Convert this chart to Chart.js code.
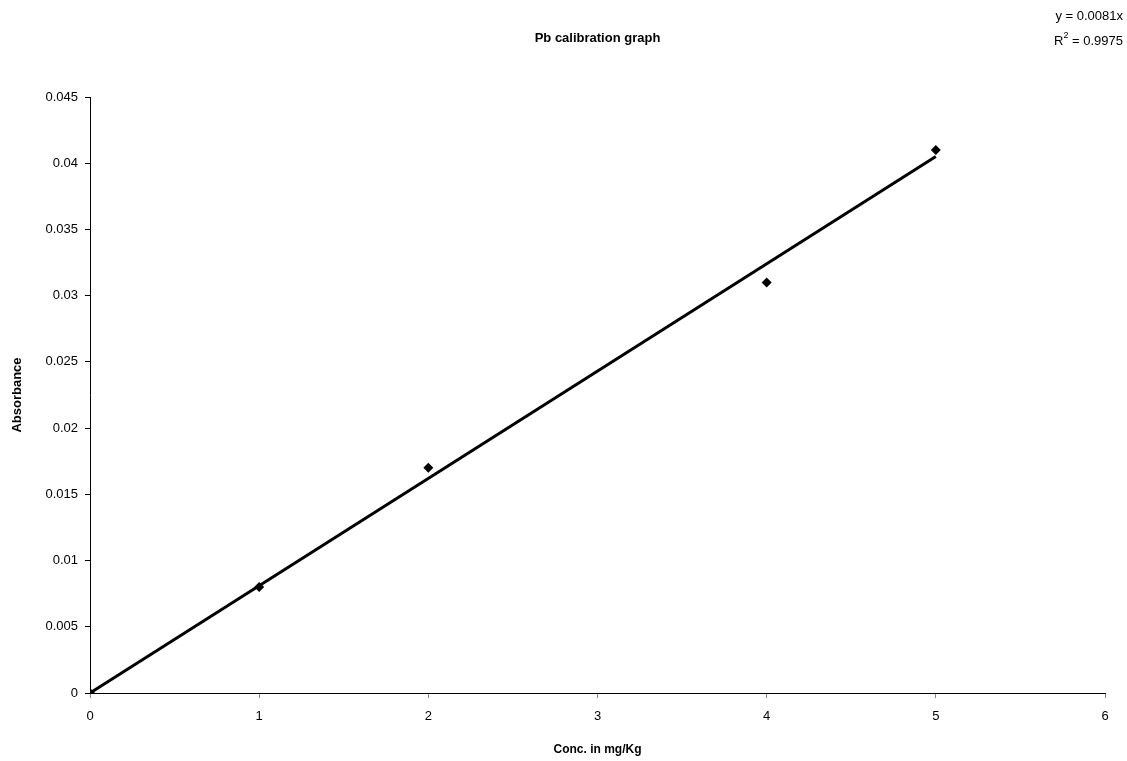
<!DOCTYPE html>
<html>
<head>
<meta charset="utf-8">
<script src="https://cdn.jsdelivr.net/npm/chart.js@4"></script>
<style>
  html, body { margin: 0; padding: 0; background: #fff; }
  #wrap { width: 1127px; height: 761px; }
</style>
</head>
<body>
<div id="wrap"><canvas id="calib" width="1127" height="761"></canvas></div>
<script>
// calibration standards
const concentrations = [0, 1, 2, 4, 5];
const absorbances = [0, 0.008, 0.017, 0.031, 0.041];

// linear fit through the origin
const slope = 0.0081;
const rSquared = 0.9975;
const fitRange = [0, 5];

const yTicks = [0, 0.005, 0.01, 0.015, 0.02, 0.025, 0.03, 0.035, 0.04, 0.045];
const xTicks = [0, 1, 2, 3, 4, 5, 6];

const FONT = '"Liberation Sans", Arial, sans-serif';

// title and trendline equation drawn on the canvas
const textPlugin = {
  id: 'calibText',
  afterDraw(chart) {
    const c = chart.ctx;
    const area = chart.chartArea;
    c.save();
    c.fillStyle = '#000';
    c.textBaseline = 'middle';

    c.font = 'bold 13px ' + FONT;
    c.textAlign = 'center';
    c.fillText('Pb calibration graph', (area.left + area.right) / 2, 38);

    c.font = '13px ' + FONT;
    c.textAlign = 'right';
    const right = 1123;
    c.fillText('y = ' + slope + 'x', right, 16);
    const rest = ' = ' + rSquared;
    const restW = c.measureText(rest).width;
    c.fillText(rest, right, 41);
    c.font = '9px ' + FONT;
    const supW = c.measureText('2').width;
    c.fillText('2', right - restW, 36);
    c.font = '13px ' + FONT;
    c.fillText('R', right - restW - supW, 41);
    c.restore();
  }
};

new Chart(document.getElementById('calib').getContext('2d'), {
  type: 'scatter',
  data: {
    datasets: [
      {
        label: 'Absorbance',
        data: concentrations.map((x, i) => ({ x: x, y: absorbances[i] })),
        pointStyle: 'rectRot',
        pointRadius: 5,
        pointBackgroundColor: '#000',
        pointBorderColor: '#000',
        pointBorderWidth: 0,
        showLine: false,
        order: 1
      },
      {
        label: 'Linear fit',
        data: fitRange.map(x => ({ x: x, y: slope * x })),
        showLine: true,
        borderColor: '#000',
        borderWidth: 3,
        pointRadius: 0,
        order: 2
      }
    ]
  },
  options: {
    responsive: false,
    animation: false,
    layout: { padding: { top: 97, right: 22, bottom: 0, left: 0 } },
    plugins: {
      legend: { display: false },
      tooltip: { enabled: false },
      title: { display: false }
    },
    scales: {
      x: {
        type: 'linear',
        min: 0,
        max: 6,
        afterBuildTicks: s => { s.ticks = xTicks.map(v => ({ value: v })); },
        afterFit: s => { s.height = 68; },
        border: { color: '#000', width: 1 },
        grid: { drawOnChartArea: false, tickLength: 5, tickColor: '#888' },
        ticks: { color: '#000', font: { family: FONT, size: 13 }, padding: 11 },
        title: {
          display: true,
          text: 'Conc. in mg/Kg',
          color: '#000',
          font: { family: FONT, size: 12, weight: 'bold' },
          padding: { top: 10 }
        }
      },
      y: {
        type: 'linear',
        min: 0,
        max: 0.045,
        afterBuildTicks: s => { s.ticks = yTicks.map(v => ({ value: v })); },
        afterFit: s => { s.width = 90; },
        border: { color: '#000', width: 1 },
        grid: { drawOnChartArea: false, tickLength: 5, tickColor: '#000' },
        ticks: {
          color: '#000',
          font: { family: FONT, size: 13 },
          padding: 7,
          callback: v => String(Number(v.toFixed(3)))
        },
        title: {
          display: true,
          text: 'Absorbance',
          color: '#000',
          font: { family: FONT, size: 13, weight: 'bold' },
          padding: { top: 10, bottom: 0 }
        }
      }
    }
  },
  plugins: [textPlugin]
});
</script>
</body>
</html>
